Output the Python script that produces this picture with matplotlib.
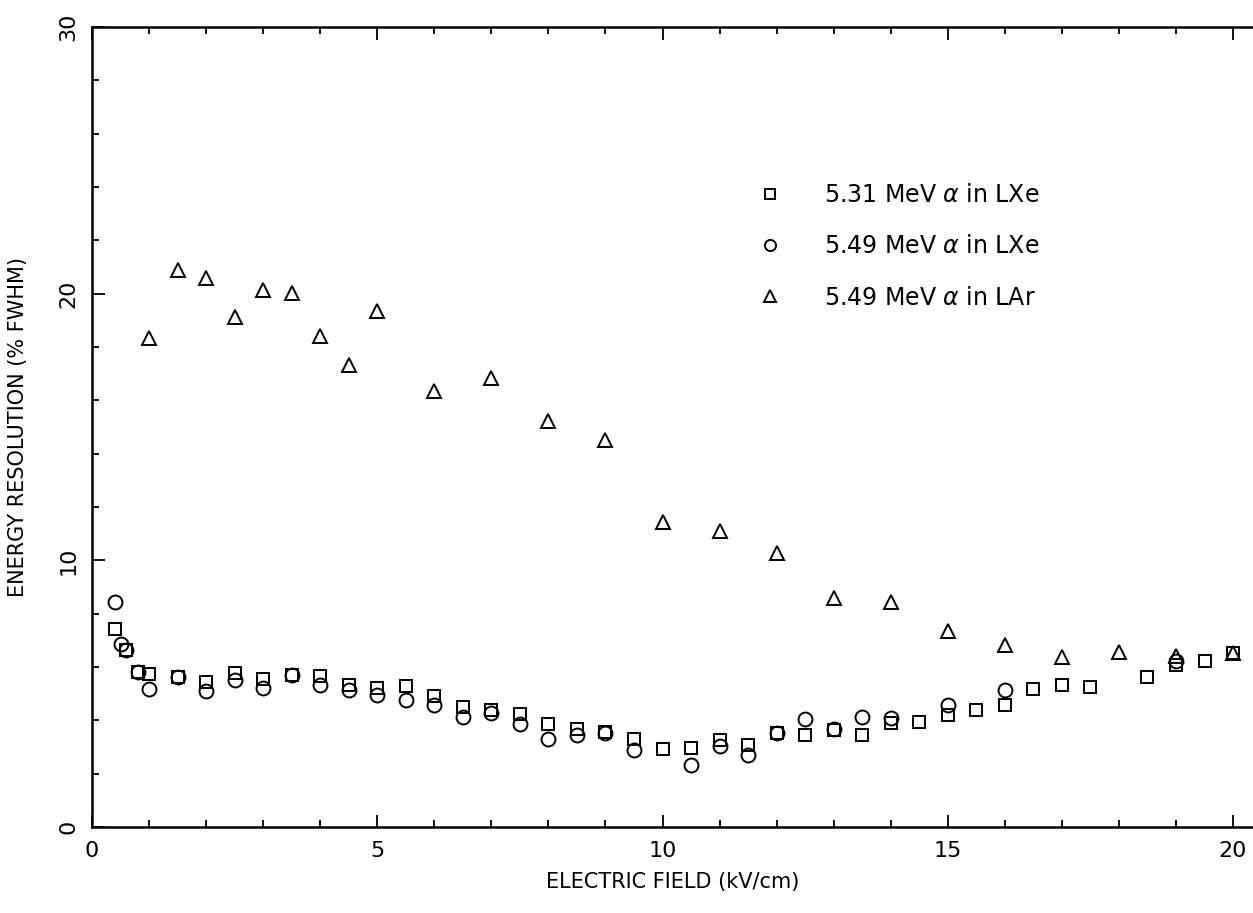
import matplotlib
matplotlib.use("Agg")
import matplotlib.pyplot as plt
from matplotlib.ticker import MultipleLocator

# 5.31 MeV alpha in LXe (squares)
xe531_x = [0.4, 0.6, 0.8, 1.0, 1.5, 2.0, 2.5, 3.0, 3.5, 4.0, 4.5, 5.0, 5.5, 6.0, 6.5, 7.0,
           7.5, 8.0, 8.5, 9.0, 9.5, 10.0, 10.5, 11.0, 11.5, 12.0, 12.5, 13.0, 13.5, 14.0,
           14.5, 15.0, 15.5, 16.0, 16.5, 17.0, 17.5, 18.5, 19.0, 19.5, 20.0]
xe531_y = [7.42, 6.62, 5.81, 5.75, 5.62, 5.43, 5.77, 5.56, 5.71, 5.68, 5.33, 5.22, 5.27, 4.91, 4.5, 4.40,
           4.25, 3.87, 3.68, 3.55, 3.31, 2.92, 2.98, 3.27, 3.07, 3.53, 3.46, 3.62, 3.46, 3.9,
           3.93, 4.19, 4.4, 4.58, 5.18, 5.31, 5.25, 5.62, 6.08, 6.24, 6.53]

# 5.49 MeV alpha in LXe (circles)
xe549_x = [0.4, 0.5, 0.6, 0.8, 1.0, 1.5, 2.0, 2.5, 3.0, 3.5, 4.0, 4.5, 5.0, 5.5, 6.0, 6.5, 7.0,
           7.5, 8.0, 8.5, 9.0, 9.5, 10.5, 11.0, 11.5, 12.0, 12.5, 13.0, 13.5, 14.0, 15.0, 16.0, 19.0]
xe549_y = [8.42, 6.87, 6.62, 5.81, 5.16, 5.62, 5.1, 5.52, 5.22, 5.71, 5.33, 5.12, 4.95, 4.75, 4.59, 4.12, 4.27,
           3.87, 3.31, 3.46, 3.53, 2.9, 2.34, 3.03, 2.69, 3.53, 4.06, 3.68, 4.12, 4.1, 4.56, 5.14, 6.24]

# 5.49 MeV alpha in LAr (triangles)
ar549_x = [1.0, 1.5, 2.0, 2.5, 3.0, 3.5, 4.0, 4.5, 5.0, 6.0, 7.0, 8.0, 9.0, 10.0, 11.0, 12.0,
           13.0, 14.0, 15.0, 16.0, 17.0, 18.0, 19.0, 20.0]
ar549_y = [18.33, 20.9, 20.57, 19.14, 20.14, 20.01, 18.43, 17.33, 19.35, 16.36, 16.83, 15.24, 14.53, 11.45, 11.1, 10.29,
           8.57, 8.42, 7.36, 6.84, 6.37, 6.55, 6.43, 6.53]

labels = ["5.31 MeV $\\alpha$ in LXe", "5.49 MeV $\\alpha$ in LXe", "5.49 MeV $\\alpha$ in LAr"]

plt.rcParams["font.family"] = "DejaVu Sans"
plt.rcParams["mathtext.fontset"] = "dejavusans"

fig = plt.figure(figsize=(12.53, 9.13), dpi=100)
ax = fig.add_axes([92 / 1253, 86 / 913, 1 - 92 / 1253, (827 - 27) / 913])

mk = dict(linestyle="none", markerfacecolor="none", markeredgecolor="black", markeredgewidth=1.4)
ax.plot(xe531_x, xe531_y, marker="s", markersize=9, label=labels[0], **mk)
ax.plot(xe549_x, xe549_y, marker="o", markersize=10, label=labels[1], **mk)
ax.plot(ar549_x, ar549_y, marker="^", markersize=10, label=labels[2], **mk)

ax.set_xlim(0, 20.35)
ax.set_ylim(0, 30)

ax.xaxis.set_major_locator(MultipleLocator(5))
ax.xaxis.set_minor_locator(MultipleLocator(1))
ax.yaxis.set_major_locator(MultipleLocator(10))
ax.yaxis.set_minor_locator(MultipleLocator(2))
ax.tick_params(which="both", direction="in", top=True, right=False, width=1.3)
ax.tick_params(which="major", length=9, labelsize=16, pad=10)
ax.tick_params(which="minor", length=5)
for lab in ax.get_yticklabels():
    lab.set_rotation(90)
    lab.set_va("center")

for s in ["left", "bottom", "top"]:
    ax.spines[s].set_linewidth(1.8)
ax.spines["right"].set_visible(False)

ax.set_xlabel("ELECTRIC FIELD (kV/cm)", fontsize=15, labelpad=8)
ax.set_ylabel("ENERGY RESOLUTION (% FWHM)", fontsize=15, labelpad=22)

leg = ax.legend(loc="upper left", bbox_to_anchor=(737 / 1253, (913 - 162) / 913),
                bbox_transform=fig.transFigure, frameon=False, fontsize=17,
                markerscale=0.8, handlelength=1.0, handletextpad=1.8, labelspacing=1.15)

fig.savefig("out.png", dpi=100)
